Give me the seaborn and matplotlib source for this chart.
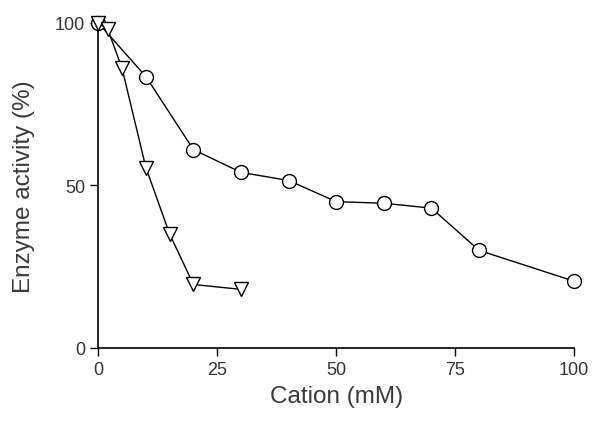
import matplotlib
matplotlib.use("Agg")
import matplotlib.pyplot as plt
import seaborn as sns
import pandas as pd

# Series
cation_a = [0, 10, 20, 30, 40, 50, 60, 70, 80, 100]
activity_a = [100, 83.5, 61, 54, 51.5, 45, 44.5, 43, 30, 20.5]

cation_b = [0, 2, 5, 10, 15, 20, 30]
activity_b = [100, 98, 86, 55.5, 35, 19.5, 18]

x_ticks = [0, 25, 50, 75, 100]
y_ticks = [0, 50, 100]

sns.set_style("ticks")
plt.rcParams["font.family"] = ["Liberation Sans", "DejaVu Sans"]

df_a = pd.DataFrame({"Cation": cation_a, "Activity": activity_a})
df_b = pd.DataFrame({"Cation": cation_b, "Activity": activity_b})

fig = plt.figure(figsize=(5.92, 4.27), dpi=100)
ax = fig.add_axes([0.166, 0.183, 0.804, 0.761])

sns.lineplot(data=df_a, x="Cation", y="Activity", ax=ax, color="black", lw=1,
             marker="o", markersize=10, markerfacecolor="white",
             markeredgecolor="black", markeredgewidth=1, clip_on=False, zorder=3)
sns.lineplot(data=df_b, x="Cation", y="Activity", ax=ax, color="black", lw=1,
             marker="v", markersize=10, markerfacecolor="white",
             markeredgecolor="black", markeredgewidth=1, clip_on=False, zorder=3)

ax.set_xlim(0, 100)
ax.set_ylim(0, 100)
ax.set_xticks(x_ticks)
ax.set_yticks(y_ticks)
ax.tick_params(direction="out", length=6, width=1, colors="black",
               labelsize=13, labelcolor="#333333")
for side in ["left", "bottom"]:
    ax.spines[side].set_linewidth(1.2)
    ax.spines[side].set_color("black")
sns.despine(ax=ax)

ax.set_xlabel("Cation (mM)", fontsize=17.5, color="#3a3a3a", va="center")
ax.set_ylabel("Enzyme activity (%)", fontsize=17.5, color="#3a3a3a", va="center")
ax.xaxis.set_label_coords(0.5, -0.148)
ax.yaxis.set_label_coords(-0.155, 0.5)

fig.savefig("out.png", dpi=100)
